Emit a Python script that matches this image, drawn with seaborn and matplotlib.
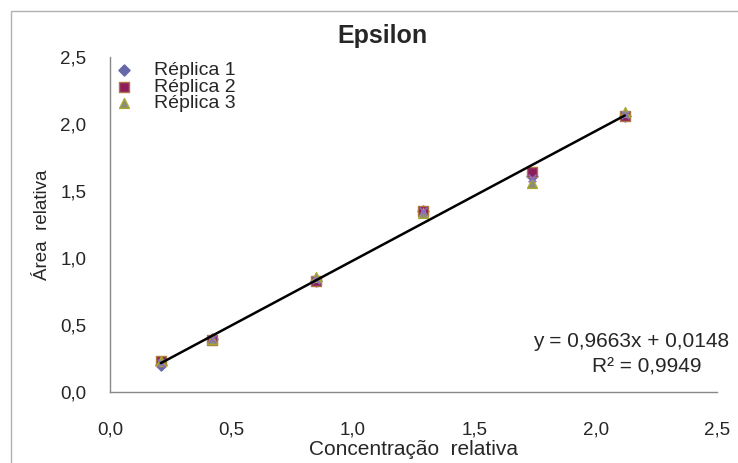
import matplotlib
matplotlib.use("Agg")
import matplotlib.pyplot as plt
import seaborn as sns
import numpy as np
import pandas as pd
from matplotlib.patches import Rectangle

# ---- data ----
concentracao = [0.21, 0.42, 0.85, 1.29, 1.74, 2.12]
replica1 = [0.20, 0.40, 0.83, 1.35, 1.61, 2.06]
replica2 = [0.23, 0.39, 0.83, 1.35, 1.64, 2.06]
replica3 = [0.23, 0.40, 0.86, 1.34, 1.56, 2.09]
media = [0.22, 0.40, 0.84, 1.35, 1.60, 2.07]
series_names = ["Réplica 1", "Réplica 2", "Réplica 3"]
slope = 0.9663
intercept = 0.0148
r2 = 0.9949
ticks = [0.0, 0.5, 1.0, 1.5, 2.0, 2.5]

sns.set_style("white")
plt.rcParams['font.family'] = ['Liberation Sans', 'DejaVu Sans']

df = pd.DataFrame({
    "x": concentracao * 3,
    "y": replica1 + replica2 + replica3,
    "serie": sum([[n] * len(concentracao) for n in series_names], []),
})

fig = plt.figure(figsize=(7.38, 4.63), dpi=100)
ax = fig.add_axes([0.149, 0.1527, 0.8225, 0.7243])

# outer chart frame
fig.patches.append(Rectangle((11 / 738, -0.1), 1.2, 1 - 11 / 463 + 0.1,
                             transform=fig.transFigure, fill=False,
                             edgecolor="#b0b0b0", linewidth=1.0))

styles = {
    "Réplica 1": dict(marker="D", color="#6666aa", edgecolor="#6666aa", s=32),
    "Réplica 2": dict(marker="s", color="#8c1e5e", edgecolor="#b07840", s=42),
    "Réplica 3": dict(marker="^", color="#8c8c78", edgecolor="#a8a830", s=50),
}
for name in series_names:
    st = styles[name]
    sns.scatterplot(data=df[df["serie"] == name], x="x", y="y", ax=ax,
                    marker=st["marker"], color=st["color"],
                    edgecolor=st["edgecolor"], linewidth=1.0, s=st["s"],
                    label=name, zorder=3)
sns.scatterplot(x=concentracao, y=media, ax=ax, marker="x", color="#8a6cc0",
                s=30, linewidth=1.2, zorder=4, legend=False)

# trendline
xl = np.array([min(concentracao), max(concentracao)])
ax.plot(xl, slope * xl + intercept, color="black", linewidth=1.8, zorder=5)

ax.set_xlim(0, 2.5)
ax.set_ylim(0, 2.5)
ax.set_xticks(ticks)
ax.set_yticks(ticks)
fmt = lambda v: f"{v:.1f}".replace(".", ",")
ax.set_xticklabels([fmt(t) for t in ticks], fontsize=13.5)
ax.set_yticklabels([fmt(t) for t in ticks], fontsize=13.5)
ax.tick_params(axis="both", direction="out", length=5, width=1,
               color="#888888")
ax.tick_params(axis="x", pad=16)
ax.tick_params(axis="y", pad=12)
for s in ["top", "right"]:
    ax.spines[s].set_visible(False)
for s in ["left", "bottom"]:
    ax.spines[s].set_color("#888888")
    ax.spines[s].set_linewidth(1.0)

ax.set_xlabel("Concentração  relativa", fontsize=15, labelpad=1)
ax.set_ylabel("Área  relativa", fontsize=13.5, labelpad=7)
fig.text(382 / 738, 1 - 36 / 463, "Epsilon", fontsize=18, fontweight="bold",
         ha="center", va="center")

ax.text(2.55, 0.375, f"y = {slope:.4f}x + {intercept:.4f}".replace(".", ","),
        ha="right", va="center", fontsize=15)
ax.text(2.435, 0.19, f"R² = {r2:.4f}".replace(".", ","),
        ha="right", va="center", fontsize=15)

leg = ax.legend(loc="upper left", bbox_to_anchor=(-0.005, 1.01), frameon=False,
                fontsize=14, handletextpad=1.0, labelspacing=-0.05,
                borderaxespad=0.0, handlelength=1.0)

fig.savefig("out.png", dpi=100)
